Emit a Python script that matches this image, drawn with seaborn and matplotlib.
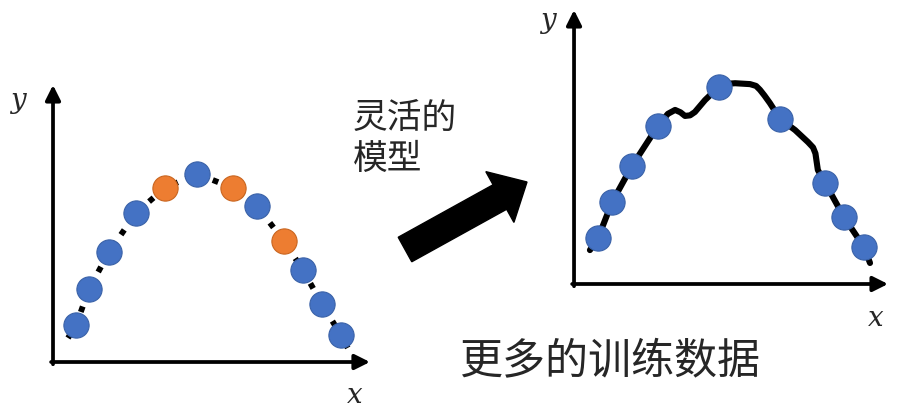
import numpy as np
import pandas as pd
import matplotlib
matplotlib.use("Agg")
import matplotlib.pyplot as plt
from matplotlib.patches import FancyArrow
import seaborn as sns

# left panel: simple model (dashed curve), blue = seen points, orange = extra points
left_x = [0.77, 1.20, 1.87, 2.77, 3.73, 4.80, 6.00, 6.80, 7.70, 8.33, 8.97, 9.60]
left_y = [1.23, 2.43, 3.67, 4.97, 5.80, 6.27, 5.80, 5.20, 4.03, 3.07, 1.93, 0.90]
left_kind = ["old", "old", "old", "old", "new", "old", "new", "old", "new", "old", "old", "old"]
left_curve_x = [0.50, 0.77, 1.20, 1.87, 2.77, 3.73, 4.80, 6.00, 6.80, 7.70, 8.33, 8.97, 9.60, 9.83]
left_curve_y = [0.80, 1.23, 2.43, 3.67, 4.97, 5.80, 6.27, 5.80, 5.20, 4.03, 3.07, 1.93, 0.90, 0.47]

# right panel: flexible model fitted to more data
right_x = [0.80, 1.27, 1.93, 2.80, 4.83, 6.87, 8.37, 9.00, 9.67]
right_y = [1.53, 2.73, 3.93, 5.27, 6.57, 5.50, 3.37, 2.23, 1.23]
right_curve_x = [0.53, 0.80, 1.27, 1.93, 2.80, 3.13, 3.37, 3.55, 3.70, 3.87, 4.03, 4.37, 4.83,
                 5.10, 5.37, 5.87, 6.07, 6.20, 6.35, 6.53, 6.87, 7.37, 7.80, 7.97, 8.05,
                 8.13, 8.37, 9.00, 9.67, 9.87]
right_curve_y = [1.13, 1.53, 2.73, 3.93, 5.27, 5.67, 5.80, 5.72, 5.60, 5.62, 5.73, 6.13, 6.57,
                 6.67, 6.69, 6.66, 6.60, 6.47, 6.28, 6.03, 5.50, 5.13, 4.73, 4.55, 4.35,
                 3.80, 3.37, 2.23, 1.23, 0.70]

label_top = "灵活的\n模型"
label_bottom = "更多的训练数据"

sns.set_style("white")
plt.rcParams['font.family'] = ['Noto Sans CJK SC', 'DejaVu Sans']

blue = "#4472C4"
blue_edge = "#3A62A8"
orange = "#ED7D31"
orange_edge = "#C9651F"

fig = plt.figure(figsize=(9.03, 4.11), dpi=100)


def draw_axes(ax, xmax, ymax):
    ax.set_xlim(0, xmax)
    ax.set_ylim(0, ymax)
    for s in ax.spines.values():
        s.set_visible(False)
    ax.set_xticks([])
    ax.set_yticks([])
    ax.set_xlabel("")
    ax.set_ylabel("")
    ax.patch.set_alpha(0)
    arrow = dict(arrowstyle="-|>,head_length=0.9,head_width=0.45", lw=2.7,
                 color="black", shrinkA=0, shrinkB=0)
    ax.annotate("", xy=(1, 0), xytext=(-0.006, 0), xycoords="axes fraction",
                textcoords="axes fraction", arrowprops=arrow)
    ax.annotate("", xy=(0, 1), xytext=(0, -0.008), xycoords="axes fraction",
                textcoords="axes fraction", arrowprops=arrow)


# left panel
ax1 = fig.add_axes([0.0587, 0.1192, 0.351, 0.674])
sns.lineplot(x=left_curve_x, y=left_curve_y, sort=False, estimator=None, ax=ax1,
             color="black", lw=4.2, linestyle=(0, (1.0, 1.5)), solid_capstyle="butt")
left_df = pd.DataFrame({"x": left_x, "y": left_y, "kind": left_kind})
old = left_df[left_df.kind == "old"]
new = left_df[left_df.kind == "new"]
sns.scatterplot(data=old, x="x", y="y", color=blue, s=330, ax=ax1,
                edgecolor=blue_edge, linewidth=0.8, legend=False, zorder=3)
sns.scatterplot(data=new, x="x", y="y", color=orange, s=330, ax=ax1,
                edgecolor=orange_edge, linewidth=0.8, legend=False, zorder=3)
draw_axes(ax1, 10.57, 9.23)

# right panel
ax2 = fig.add_axes([0.6357, 0.309, 0.3477, 0.6667])
sns.lineplot(x=right_curve_x, y=right_curve_y, sort=False, estimator=None, ax=ax2,
             color="black", lw=4.4)
sns.scatterplot(x=right_x, y=right_y, color=blue, s=330, ax=ax2,
                edgecolor=blue_edge, linewidth=0.8, legend=False, zorder=3)
draw_axes(ax2, 10.47, 9.13)

# axis letters
lab = dict(fontsize=20, fontstyle="italic", family="DejaVu Serif", ha="center", va="center")
fig.text(18 / 903, 1 - 100 / 411, "y", **lab)
fig.text(355 / 903, 1 - 395 / 411, "x", **lab)
fig.text(548 / 903, 1 - 20 / 411, "y", **lab)
fig.text(876 / 903, 1 - 318 / 411, "x", **lab)

# big arrow between panels
fig.add_artist(FancyArrow(4.05, 4.11 - 2.495, 1.22, 0.675, width=0.28, head_width=0.58,
                          head_length=0.31, length_includes_head=True,
                          color="black", transform=fig.dpi_scale_trans))

fig.text(353 / 903, 1 - 139 / 411, label_top, fontsize=25, ha="left", va="center",
         linespacing=1.2)
fig.text(460 / 903, 1 - 361 / 411, label_bottom, fontsize=31, ha="left", va="center")

fig.savefig("out.png", dpi=100)
